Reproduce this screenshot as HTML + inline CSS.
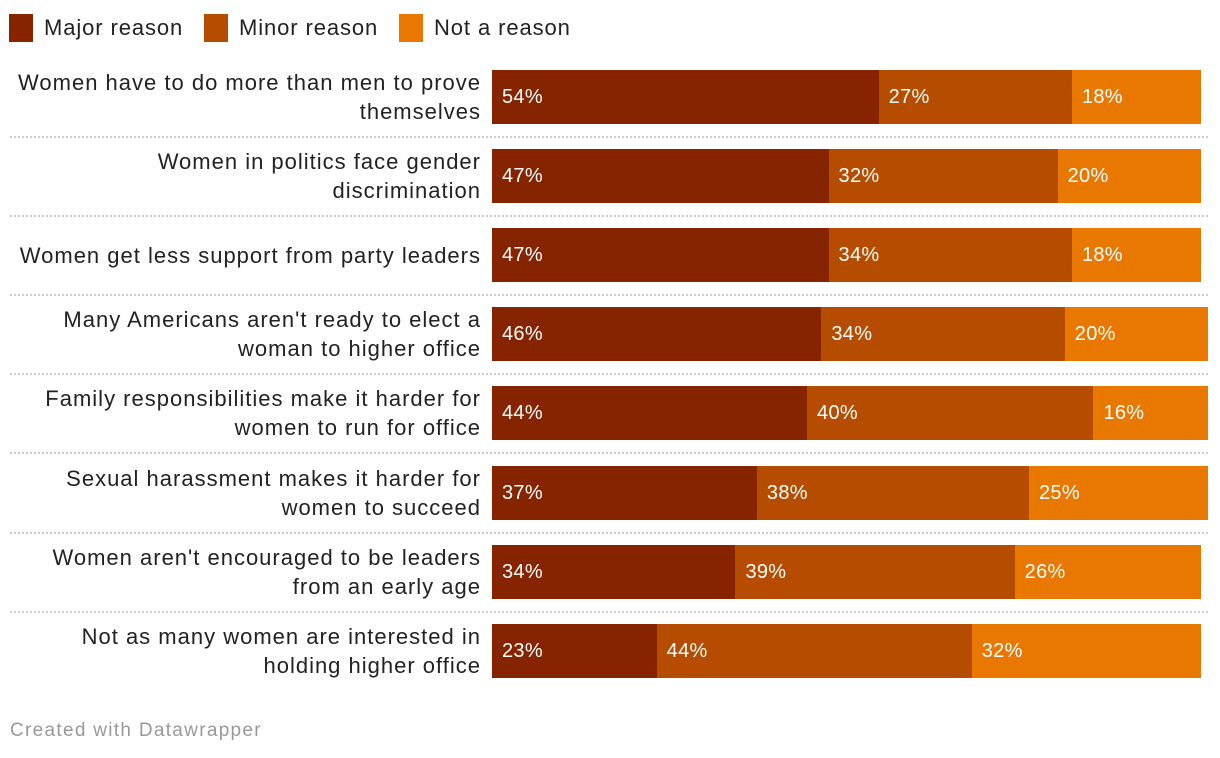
<!DOCTYPE html>
<html><head><meta charset="utf-8"><style>
body{margin:0;width:1220px;height:758px;background:#fff;font-family:"Liberation Sans",sans-serif;position:relative;overflow:hidden}
.a{position:absolute}
.leg{top:14px;height:28px;display:flex;align-items:center;font-size:22px;color:#222;letter-spacing:0.9px}
.sw{width:24px;height:28px;margin-right:11px}
.lbl{right:739px;text-align:right;font-size:22px;letter-spacing:1px;line-height:29px;color:#222;width:560px}
.seg{height:54px;color:#fff;font-size:20px;letter-spacing:0.3px;line-height:54px;text-indent:10px;box-sizing:border-box;overflow:hidden;white-space:nowrap}
.sep{left:10px;width:1198px;border-top:2px dotted #ccc;height:0}
</style></head><body>
<div class="a leg" style="left:9px"><div class="sw" style="background:#862400"></div>Major reason</div>
<div class="a leg" style="left:204px"><div class="sw" style="background:#b64c00"></div>Minor reason</div>
<div class="a leg" style="left:399px"><div class="sw" style="background:#e87800"></div>Not a reason</div>
<div id="chart"></div>
<div class="a" style="left:10px;top:720px;font-size:19px;letter-spacing:1.3px;color:#999">Created with Datawrapper</div>
<script>
const categories=["Women have to do more than men to prove themselves","Women in politics face gender discrimination","Women get less support from party leaders","Many Americans aren't ready to elect a woman to higher office","Family responsibilities make it harder for women to run for office","Sexual harassment makes it harder for women to succeed","Women aren't encouraged to be leaders from an early age","Not as many women are interested in holding higher office"];
const labelLines=[["Women have to do more than men to prove","themselves"],["Women in politics face gender","discrimination"],["Women get less support from party leaders"],["Many Americans aren't ready to elect a","woman to higher office"],["Family responsibilities make it harder for","women to run for office"],["Sexual harassment makes it harder for","women to succeed"],["Women aren't encouraged to be leaders","from an early age"],["Not as many women are interested in","holding higher office"]];
const major=[54,47,47,46,44,37,34,23];
const minor=[27,32,34,34,40,38,39,44];
const notR=[18,20,18,20,16,25,26,32];
const colors=["#862400","#b64c00","#e87800"];
const X0=492,PX=7.16;
const x=v=>X0+v*PX;
const rowTop=i=>70+i*79.1;
const c=document.getElementById('chart');
categories.forEach((cat,i)=>{
  const t=rowTop(i);
  const l=document.createElement('div');
  l.className='a lbl';
  
  
  l.innerHTML=labelLines[i].join('<br>');
  l.style.top=(t+27-labelLines[i].length*14.5)+'px';
  c.appendChild(l);
  let acc=0;
  [major[i],minor[i],notR[i]].forEach((v,k)=>{
    const s=document.createElement('div');
    s.className='a seg';
    
    
    s.style.left=x(acc)+'px';s.style.top=t+'px';
    s.style.width=(v*PX)+'px';s.style.background=colors[k];
    s.textContent=v+'%';
    c.appendChild(s);acc+=v;
  });
  if(i<categories.length-1){
    const d=document.createElement('div');
    d.className='a sep';
    
    
    d.style.top=(t+66)+'px';
    c.appendChild(d);
  }
});
</script>
</body></html>
